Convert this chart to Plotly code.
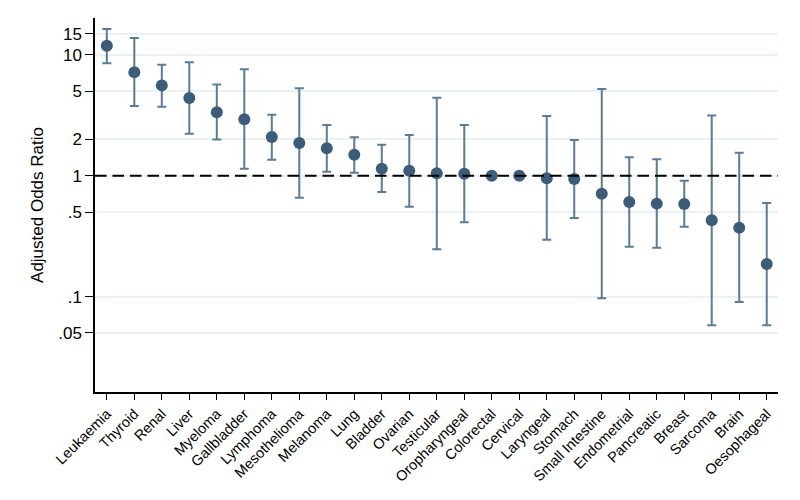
import plotly.graph_objects as go

categories = ["Leukaemia", "Thyroid", "Renal", "Liver", "Myeloma", "Gallbladder",
              "Lymphoma", "Mesothelioma", "Melanoma", "Lung", "Bladder", "Ovarian",
              "Testicular", "Oropharyngeal", "Colorectal", "Cervical", "Laryngeal",
              "Stomach", "Small Intestine", "Endometrial", "Pancreatic", "Breast",
              "Sarcoma", "Brain", "Oesophageal"]
odds_ratio = [11.9, 7.2, 5.6, 4.4, 3.35, 2.94, 2.09, 1.87, 1.69, 1.49, 1.145, 1.10,
              1.05, 1.04, 1.0, 1.0, 0.953, 0.941, 0.711, 0.607, 0.588, 0.584,
              0.428, 0.372, 0.186]
ci_upper = [16.4, 13.8, 8.3, 8.7, 5.7, 7.6, 3.2, 5.3, 2.63, 2.08, 1.81, 2.18,
            4.43, 2.63, None, None, 3.13, 1.98, 5.23, 1.42, 1.37, 0.911,
            3.15, 1.55, 0.596]
ci_lower = [8.54, 3.78, 3.73, 2.23, 2.0, 1.145, 1.36, 0.659, 1.08, 1.06, 0.734, 0.555,
            0.246, 0.412, None, None, 0.296, 0.447, 0.097, 0.259, 0.254, 0.379,
            0.058, 0.090, 0.058]
reference_value = 1

y_tickvals = [0.05, 0.1, 0.5, 1, 2, 5, 10, 15]
y_ticktext = [".05", ".1", ".5", "1", "2", "5", "10", "15"]

err_plus = [(u - v) if u is not None else 0 for u, v in zip(ci_upper, odds_ratio)]
err_minus = [(v - l) if l is not None else 0 for l, v in zip(ci_lower, odds_ratio)]

MARK = "#3b5d7a"
ERR = "#5a7c97"
FONT = "Liberation Sans, Arial, sans-serif"

fig = go.Figure()
# reference line (drawn first so it sits beneath the markers)
fig.add_trace(go.Scatter(
    x=[0, 1], y=[reference_value, reference_value], xaxis="x2", yaxis="y",
    mode="lines", line=dict(color="black", width=2, dash="11.5px,6px"),
    hoverinfo="skip", showlegend=False,
))
fig.add_trace(go.Scatter(
    x=categories, y=odds_ratio, mode="markers",
    marker=dict(color=MARK, size=12),
    error_y=dict(type="data", symmetric=False, array=err_plus, arrayminus=err_minus,
                 color=ERR, thickness=2, width=4.5),
    showlegend=False,
))

fig.update_layout(
    width=800, height=500,
    margin=dict(l=87, r=30, t=10, b=116),
    paper_bgcolor="white", plot_bgcolor="white",
    font=dict(family=FONT, color="black"),
    xaxis2=dict(overlaying="x", range=[0, 1], visible=False, showgrid=False),
    xaxis=dict(
        type="category", range=[-0.43, 24.41],
        showline=True, linecolor="black", linewidth=1.5,
        ticks="outside", ticklen=6, tickcolor="black", tickwidth=1,
        tickangle=-45, tickfont=dict(size=14.5, family=FONT), showgrid=False,
    ),
)
fig.update_yaxes(
    type="log", range=[-1.79, 1.306],
    tickvals=y_tickvals, ticktext=y_ticktext,
    showline=True, linecolor="black", linewidth=1.5,
    ticks="outside", ticklen=8, tickcolor="black", tickwidth=1,
    tickfont=dict(size=17, family=FONT),
    showgrid=True, gridcolor="#eaf1f3", gridwidth=1.5,
    zeroline=False,
    title=dict(text="Adjusted Odds Ratio", font=dict(size=17, family=FONT), standoff=10),
)

fig.write_html("out.html")
